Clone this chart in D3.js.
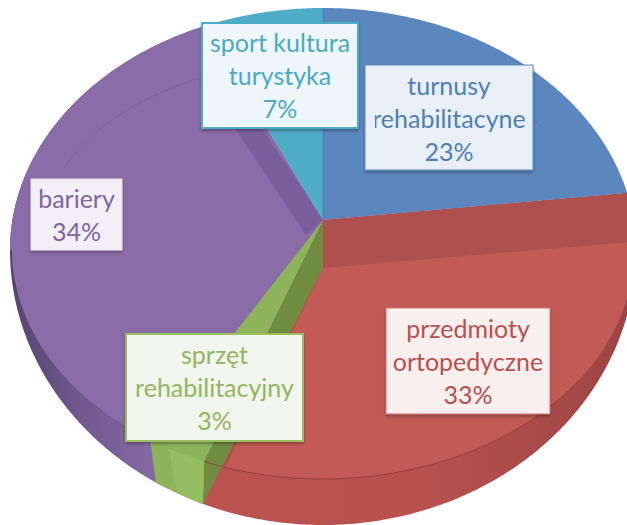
<!DOCTYPE html>
<html><head><meta charset="utf-8">
<script src="https://cdn.jsdelivr.net/npm/d3@7"></script>
<style>html,body{margin:0;padding:0;background:#fff}svg{display:block}text{font-family:Lato,"Open Sans",sans-serif}</style>
</head><body><div id="c"></div>
<script>
const categories = ["turnusy rehabilitacyne","przedmioty ortopedyczne","sprzęt rehabilitacyjny","bariery","sport kultura turystyka"];
const values = [23,33,3,34,7];
const labelLines = [["turnusy","rehabilitacyne","23%"],["przedmioty","ortopedyczne","33%"],["sprzęt","rehabilitacyjny","3%"],["bariery","34%"],["sport kultura","turystyka","7%"]];
const topColors = ["#5b87bf","#ae504d","#8db45a","#8a6ca8","#4fadc8"];
const textColors = ["#4f7fb4","#b8504e","#93b560","#7f659f","#4ba9c2"];
const boxFills = ["#e9eff7","#f9efee","#f2f5ed","#f2eff6","#eef6f9"];
const boxStrokes = ["#5f8dba","#c9716d","#9bbf5f","#e8e4ef","#4bacc6"];
const boxes = [[365,65,168,105],[386,308,164,106],[126,334,177,107],[31,179,91,71],[202,23,156,105]];

const W=627,H=525,cx=323,cy=250,ax=323,ay=220;
const svg=d3.select("#c").append("svg").attr("width",W).attr("height",H).attr("viewBox",`0 0 ${W} ${H}`);
const defs=svg.append("defs");
const grad=(id,x1,x2,stops)=>{const g=defs.append("linearGradient").attr("id",id).attr("gradientUnits","userSpaceOnUse").attr("x1",x1).attr("x2",x2).attr("y1",0).attr("y2",0);
  stops.forEach(s=>g.append("stop").attr("offset",s[0]).attr("stop-color",s[1]));};
grad("wallP",10,170,[[0,"#54456e"],[0.45,"#71598f"],[1,"#8a6ca8"]]);
grad("wallR",200,627,[[0,"#bb5450"],[0.5,"#b9524f"],[1,"#9c4543"]]);
const shadow=defs.append("filter").attr("id","sh").attr("x","-10%").attr("y","-10%").attr("width","120%").attr("height","125%");
shadow.append("feDropShadow").attr("dx",0).attr("dy",2).attr("stdDeviation",1.5).attr("flood-color","#000").attr("flood-opacity",0.3);
defs.append("clipPath").attr("id","cutR").append("rect").attr("x",375).attr("y",60).attr("width",170).attr("height",115);

// perspective foreshortening of slice angles
const warp=d3.scaleLinear().domain([0,90,180,240,300,360]).range([0,83,180,242.5,307,360]);
const pie=d3.pie().sort(null).value(d=>d)(values);
const deg=r=>r*180/Math.PI;
const slices=pie.map(p=>({a0:warp(deg(p.startAngle)),a1:warp(deg(p.endAngle))}));
const rad=d=>d*Math.PI/180;
const outer=t=>{const s=Math.sin(rad(t)),c=Math.cos(rad(t));return [cx+313*s,cy-(c>=0?242:275)*c];};
const ridge=t=>{const s=Math.sin(rad(t)),c=Math.cos(rad(t));return [cx+311*s,cy-(c>=0?242:229)*c];};
const inner=t=>[cx+285*Math.sin(rad(t)),244-184*Math.cos(rad(t))];
const sweep=(f,a,b)=>d3.range(a,b,0.5).concat([b]).map(f);
const line=d3.line();
const poly=pts=>line(pts)+"Z";
const g=svg.append("g");
const apex=[ax,ay], apex2=[ax,ay+48];

const [bl,re,gr,pu,cy2]=slices;
// side walls
g.append("path").attr("d",poly([apex,...sweep(outer,re.a0,re.a1+1)])).attr("fill","url(#wallR)");
g.append("path").attr("d",poly([apex,...sweep(outer,pu.a0-3,pu.a1)])).attr("fill","url(#wallP)");
// top surfaces
const topRim=t=>Math.cos(rad(t))>=0?outer(t):ridge(t);
slices.forEach((s,i)=>{g.append("path").attr("d",poly([apex,...sweep(topRim,s.a0,s.a1)])).attr("fill",topColors[i]);});
// green wall
g.append("path").attr("d",poly([ridge(re.a1),ridge(gr.a1),...sweep(outer,re.a1,gr.a1-1.5).reverse()])).attr("fill","#8db45a");
g.append("path").attr("d",poly([ridge(gr.a1-4),ridge(re.a1),outer(re.a1),outer(gr.a1-6)])).attr("fill","#95bd62");

// bevel facets
g.append("path").attr("d",poly([[ax-17,ay+15],inner(pu.a1-3),inner(pu.a1+2),apex])).attr("fill","#7a5e9e");
g.append("path").attr("d",poly([apex2,...sweep(topRim,re.a0+11.6,re.a1-4.2)])).attr("fill","#c25b57");
g.append("path").attr("d",poly([apex,ridge(re.a1),outer(re.a1),apex2])).attr("fill","#6f8c40");

// rim lines
g.append("path").attr("d",line(sweep(ridge,gr.a1,262))).attr("fill","none").attr("stroke","#000").attr("stroke-opacity",0.12);
g.append("path").attr("d",line(sweep(ridge,125,re.a1))).attr("fill","none").attr("stroke","#8c3533").attr("stroke-opacity",0.75).attr("stroke-width",1);
g.append("path").attr("d",line(sweep(inner,22,50))).attr("fill","none").attr("stroke","#000").attr("stroke-opacity",0.07);
g.append("path").attr("d",line(sweep(inner,295,335))).attr("fill","none").attr("stroke","#000").attr("stroke-opacity",0.07);
g.append("path").attr("d",line([apex,[ax,ay-212]])).attr("stroke","#3f74a8").attr("stroke-opacity",0.5).attr("fill","none");

// labels
const lbl=svg.append("g");
labelLines.forEach((ls,i)=>{
  const [x,y,w,h]=boxes[i];
  lbl.append("rect").attr("x",x).attr("y",y).attr("width",w).attr("height",h)
    .attr("fill",boxFills[i]).attr("stroke",boxStrokes[i]).attr("stroke-width",i===4||i===2?2:1).attr("filter","url(#sh)");
  const step=33, mid=y+h/2+(i===0?2:1);
  const t=lbl.append("g");
  if(i===0) t.attr("clip-path","url(#cutR)");
  ls.forEach((s,k)=>{
    t.append("text").attr("x",x+w/2).attr("y",mid+(k-(ls.length-1)/2)*step+8.5)
     .attr("text-anchor","middle").attr("font-size",25).attr("fill",textColors[i]).text(s);
  });
});
</script></body></html>
